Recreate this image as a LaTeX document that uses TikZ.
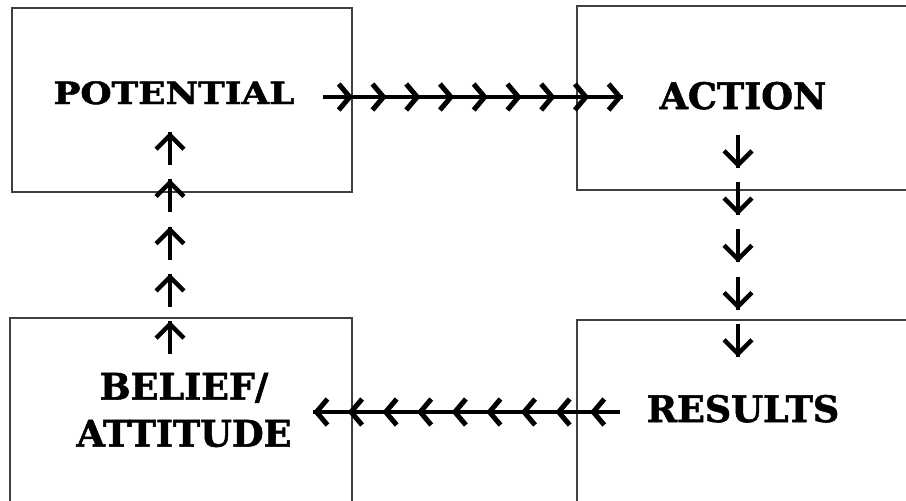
\documentclass[tikz,border=0pt]{standalone}
\usepackage{fontspec}
\setmainfont{DejaVu Serif}[BoldFeatures={FakeBold=1.5}]
\usetikzlibrary{arrows.meta,decorations.markings}

\tikzset{
  box/.style={draw=black!75,line width=1.3pt},
  lbl/.style={inner sep=0pt,font=\bfseries\fontsize{36.5}{47}\selectfont},
  hrow/.style n args={2}{line width=3.5pt,
    postaction={decorate,decoration={markings,
      mark=between positions #1 and 1 step #2 with
        {\arrow{Straight Barb[length=11pt,width=26pt,line width=5pt]}}}}},
  vrow/.style={line width=3.5pt,dash pattern=on 33pt off 14.24pt,
    postaction={decorate,decoration={markings,
      mark=between positions 33pt and 1 step 47.24pt with
        {\arrow{Straight Barb[length=14pt,width=28pt,line width=4.5pt]}}}}}
}

\begin{document}
\begin{tikzpicture}
  [x=1pt,y=-1pt]
  \useasboundingbox (0,0) rectangle (906,501);
  % the four boxes
  \draw[box] (12,8) rectangle (352,192);
  \draw[box] (577,6) rectangle (912,190);
  \draw[box] (10,318) rectangle (352,510);
  \draw[box] (577,320) rectangle (912,510);

  \node[lbl,anchor=base] (pot) at (174,104) {\scalebox{0.98}[0.84]{POTENTIAL}};
  \node[lbl,anchor=base] (act) at (743,109) {ACTION};
  \node[lbl,anchor=base] (res) at (743,422) {RESULTS};
  \node[lbl,align=center] (bel) at (184,410) {BELIEF/\\ATTITUDE};

  % ends of the arrow rows
  \coordinate (p1) at (323,97);
  \coordinate (a1) at (623,97);
  \coordinate (a2) at (738,135);
  \coordinate (r1) at (738,357);
  \coordinate (r2) at (620,412);
  \coordinate (b1) at (313,412);
  \coordinate (b2) at (170,354);
  \coordinate (p2) at (170,132);

  \draw[hrow={30pt}{33.74pt}] (p1) -- (a1);
  \draw[hrow={30pt}{34.6pt}] (r2) -- (b1);
  \foreach \from/\to in {a2/r1,b2/p2}
    \draw[vrow] (\from) -- (\to);
\end{tikzpicture}
\end{document}
